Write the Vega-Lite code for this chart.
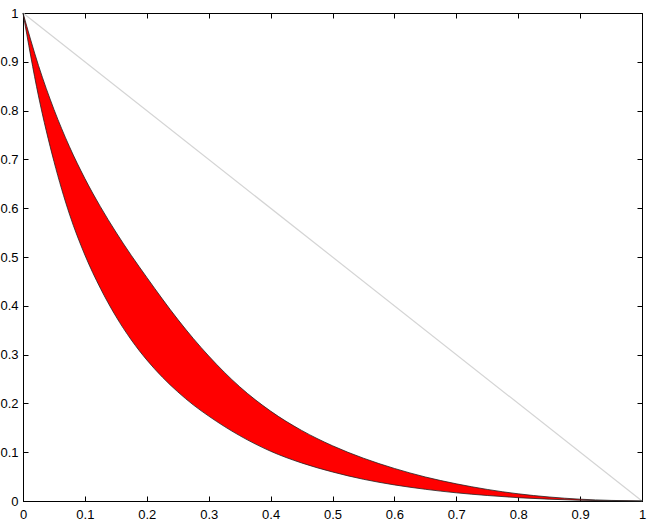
{
  "$schema": "https://vega.github.io/schema/vega-lite/v6.json",
  "width": 619,
  "height": 488,
  "autosize": {"type": "none"},
  "padding": {"left": 23, "top": 13, "right": 11, "bottom": 21},
  "background": "white",
  "config": {
    "view": {"stroke": "black", "strokeWidth": 1},
    "axis": {
      "labelFont": "Liberation Sans",
      "labelFontSize": 13,
      "labelColor": "black",
      "domainColor": "black",
      "tickColor": "black",
      "grid": false,
      "title": null
    }
  },
  "datasets": {
    "band": [
      {"x": 0, "lo": 1, "hi": 1},
      {"x": 0.025, "lo": 0.83, "hi": 0.8925},
      {"x": 0.05, "lo": 0.696, "hi": 0.8025},
      {"x": 0.075, "lo": 0.588, "hi": 0.7262},
      {"x": 0.1, "lo": 0.504, "hi": 0.6607},
      {"x": 0.125, "lo": 0.436, "hi": 0.6032},
      {"x": 0.15, "lo": 0.3785, "hi": 0.5512},
      {"x": 0.175, "lo": 0.33, "hi": 0.5032},
      {"x": 0.2, "lo": 0.289, "hi": 0.4582},
      {"x": 0.225, "lo": 0.254, "hi": 0.4142},
      {"x": 0.25, "lo": 0.2237, "hi": 0.3722},
      {"x": 0.275, "lo": 0.197, "hi": 0.3332},
      {"x": 0.3, "lo": 0.174, "hi": 0.2972},
      {"x": 0.35, "lo": 0.134, "hi": 0.2342},
      {"x": 0.4, "lo": 0.102, "hi": 0.1842},
      {"x": 0.45, "lo": 0.078, "hi": 0.1447},
      {"x": 0.5, "lo": 0.0595, "hi": 0.1132},
      {"x": 0.55, "lo": 0.0445, "hi": 0.0877},
      {"x": 0.6, "lo": 0.033, "hi": 0.0667},
      {"x": 0.65, "lo": 0.024, "hi": 0.0492},
      {"x": 0.7, "lo": 0.0168, "hi": 0.0352},
      {"x": 0.75, "lo": 0.0113, "hi": 0.0237},
      {"x": 0.8, "lo": 0.0068, "hi": 0.0147},
      {"x": 0.85, "lo": 0.0037, "hi": 0.0082},
      {"x": 0.9, "lo": 0.0015, "hi": 0.0037},
      {"x": 0.95, "lo": 0.0004, "hi": 0.0012},
      {"x": 1, "lo": 0, "hi": 0}
    ],
    "diag": [
      {"x": 0, "y": 1},
      {"x": 1, "y": 0}
    ]
  },
  "layer": [
    {
      "data": {"name": "diag"},
      "mark": {"type": "line", "color": "#d4d4d4", "strokeWidth": 1.2},
      "encoding": {
        "x": {"field": "x", "type": "quantitative", "scale": {"domain": [0, 1], "nice": false},
              "axis": {"orient": "bottom", "values": [0,0.1,0.2,0.3,0.4,0.5,0.6,0.7,0.8,0.9,1], "tickSize": -5, "labelPadding": 12, "labelFlush": false, "labelOverlap": false,
                       "labelExpr": "datum.value == 0 ? '0' : datum.value == 1 ? '1' : format(datum.value, '.1f')"}},
        "y": {"field": "y", "type": "quantitative", "scale": {"domain": [0, 1], "nice": false},
              "axis": {"orient": "left", "values": [0,0.1,0.2,0.3,0.4,0.5,0.6,0.7,0.8,0.9,1], "tickSize": -5, "labelPadding": 10, "labelFlush": false, "labelOverlap": false,
                       "labelExpr": "datum.value == 0 ? '0' : datum.value == 1 ? '1' : format(datum.value, '.1f')"}}
      }
    },
    {
      "data": {"name": "band"},
      "mark": {"type": "area", "color": "#ff0000", "opacity": 1, "interpolate": "monotone"},
      "encoding": {
        "x": {"field": "x", "type": "quantitative", "axis": null},
        "y": {"field": "lo", "type": "quantitative", "axis": null},
        "y2": {"field": "hi"}
      }
    },
    {
      "data": {"name": "band"},
      "mark": {"type": "line", "color": "#222222", "strokeWidth": 0.8, "interpolate": "monotone"},
      "encoding": {
        "x": {"field": "x", "type": "quantitative", "axis": null},
        "y": {"field": "lo", "type": "quantitative", "axis": null}
      }
    },
    {
      "data": {"name": "band"},
      "mark": {"type": "line", "color": "#222222", "strokeWidth": 0.8, "interpolate": "monotone"},
      "encoding": {
        "x": {"field": "x", "type": "quantitative",
              "axis": {"orient": "top", "values": [0,0.1,0.2,0.3,0.4,0.5,0.6,0.7,0.8,0.9,1], "tickSize": -5, "labels": false, "domain": true}},
        "y": {"field": "hi", "type": "quantitative",
              "axis": {"orient": "right", "values": [0,0.1,0.2,0.3,0.4,0.5,0.6,0.7,0.8,0.9,1], "tickSize": -5, "labels": false, "domain": true}}
      }
    }
  ],
  "resolve": {"axis": {"x": "independent", "y": "independent"}}
}
